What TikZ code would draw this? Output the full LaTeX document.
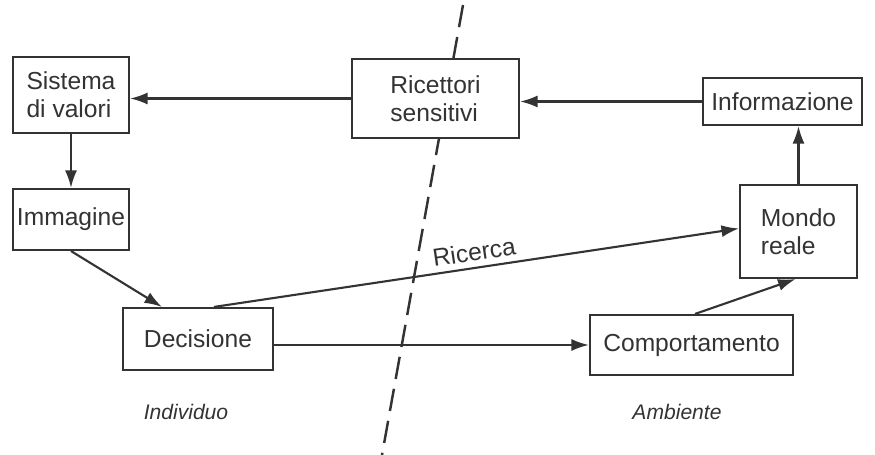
\documentclass[tikz,border=0pt]{standalone}
\usepackage{fontspec}
\setmainfont{Liberation Sans}
\usepackage{xcolor}
\usetikzlibrary{arrows.meta,positioning,calc}
\definecolor{ink}{HTML}{333333}

\begin{document}
\begin{tikzpicture}[
  box/.style={draw=ink,line width=1.2pt,fill=white,align=left,inner sep=2pt,font=\fontsize{14}{16}\selectfont,text=ink},
  arr/.style={-{Latex[length=3.5mm,width=2.4mm]},line width=1.2pt,draw=ink},
  side/.style={font=\fontsize{12}{14}\selectfont\itshape,text=ink}]
  \useasboundingbox (0,0) rectangle (17.5,9.1);
  % dividing line individuo / ambiente
  \coordinate (top) at (9.26,9.0);
  \coordinate (bot) at (7.64,0);
  \draw[ink,line width=1.4pt,dash pattern=on 0.45cm off 0.2cm] (top) -- (bot);
  \node[box,minimum width=2.32cm,minimum height=1.52cm] (sys) at (1.42,7.20) {Sistema\\di valori};
  \node[box,minimum width=3.34cm,minimum height=1.58cm] (ric) at (8.71,7.13) {Ricettori\\sensitivi};
  \node[box,minimum width=3.18cm,minimum height=0.94cm] (inf) at (15.65,7.07) {Informazione};
  \node[box,minimum width=2.32cm,minimum height=1.22cm] (imm) at (1.42,4.71) {Immagine};
  \node[box,minimum width=2.34cm,minimum height=1.86cm] (mon) at (15.97,4.47) {Mondo\\reale};
  \node[box,minimum width=3.00cm,minimum height=1.24cm] (dec) at (3.96,2.32) {Decisione};
  \node[box,minimum width=4.06cm,minimum height=1.20cm] (com) at (13.83,2.20) {Comportamento};
  \draw[arr] (ric.west) -- (ric.west -| sys.east);
  \draw[arr] (inf.west) -- (inf.west -| ric.east);
  \draw[arr] (sys) -- (imm);
  \draw[arr] (imm.south) -- ($(dec.north west)+(0.8,0)$);
  \draw[arr] ($(dec.north west)+(1.84,0)$) -- node[above,sloped,pos=0.5,font=\fontsize{14}{16}\selectfont,text=ink] {Ricerca} ($(mon.west)+(0,0.06)$);
  \draw[arr] (com.west -| dec.east) -- (com.west);
  \draw[arr] ($(com.north)+(0.07,0)$) -- ($(mon.south)-(0.06,0)$);
  \draw[arr] (mon.north) -- (mon.north |- inf.south);
  \node[side] (ind) at (3.72,0.86) {Individuo};
  \node[side] (amb) at (13.54,0.86) {Ambiente};
\end{tikzpicture}
\end{document}
